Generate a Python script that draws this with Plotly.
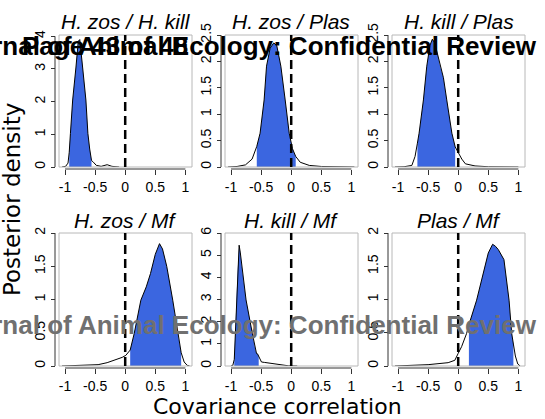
import plotly.graph_objects as go

W, H = 545, 419

# ---------------- data ----------------
titles = ["H. zos / H. kill", "H. zos / Plas", "H. kill / Plas",
          "H. zos / Mf", "H. kill / Mf", "Plas / Mf"]

x_ticks = [-1, -0.5, 0, 0.5, 1]
x_tick_labels = ["-1", "-0.5", "0", "0.5", "1"]

y_ticks = [
    [0, 1, 2, 3, 4],
    [0, 0.5, 1, 1.5, 2, 2.5],
    [0, 0.5, 1, 1.5, 2, 2.5],
    [0, 0.5, 1, 1.5, 2],
    [0, 1, 2, 3, 4, 5, 6],
    [0, 0.5, 1, 1.5, 2],
]
y_tick_labels = [[("%g" % v) for v in t] for t in y_ticks]
y_max = [4.04, 2.5, 2.5, 2.0, 6.0, 2.0]

# posterior density curves (x, density)
dens_x_1 = [-1.05, -0.99, -0.95, -0.93, -0.91, -0.873, -0.818, -0.78, -0.755, -0.73,
            -0.708, -0.653, -0.62, -0.59, -0.56, -0.53, -0.48, -0.4, -0.3, -0.22, -0.1]
dens_y_1 = [0, 0.02, 0.12, 0.45, 1.03, 2.05, 3.06, 3.85, 3.9, 3.5,
            3.06, 2.05, 1.03, 0.55, 0.2, 0.15, 0.05, 0.02, 0.07, 0.02, 0.0]
hpd_1 = [-0.93, -0.56]

dens_x_2 = [-1.05, -0.9, -0.76, -0.65, -0.572, -0.517, -0.45, -0.41, -0.35, -0.29,
            -0.24, -0.172, -0.1, -0.033, 0.02, 0.075, 0.15, 0.3, 0.5, 0.8, 1.05]
dens_y_2 = [0, 0.01, 0.04, 0.15, 0.39, 0.64, 1.27, 1.91, 2.25, 2.35,
            2.3, 1.91, 1.27, 0.64, 0.35, 0.2, 0.09, 0.03, 0.01, 0.005, 0]
hpd_2 = [-0.572, 0.075]

dens_x_3 = [-1.05, -0.9, -0.77, -0.717, -0.678, -0.65, -0.578, -0.522, -0.47, -0.43,
            -0.39, -0.355, -0.30, -0.245, -0.19, -0.105, -0.05, 0.005, 0.06, 0.12,
            0.28, 0.5, 1.0]
dens_y_3 = [0, 0.005, 0.03, 0.2, 0.45, 0.64, 1.27, 1.91, 2.3, 2.42,
            2.35, 2.2, 1.91, 1.69, 1.27, 0.64, 0.38, 0.27, 0.15, 0.06,
            0.02, 0.005, 0]
hpd_3 = [-0.678, -0.05]

dens_x_4 = [-1.05, -0.8, -0.6, -0.45, -0.3, -0.18, -0.05, 0.01, 0.083, 0.15,
            0.26, 0.35, 0.42, 0.5, 0.57, 0.62, 0.69, 0.79, 0.873, 0.93,
            0.98, 1.03, 1.07]
dens_y_4 = [0, 0.005, 0.01, 0.02, 0.05, 0.086, 0.13, 0.16, 0.24, 0.49,
            0.99, 1.19, 1.39, 1.68, 1.84, 1.76, 1.5, 0.99, 0.49, 0.2,
            0.06, 0.01, 0]
hpd_4 = [0.083, 0.93]

dens_x_5 = [-1.0, -0.97, -0.946, -0.925, -0.91, -0.89, -0.865, -0.845, -0.82, -0.75,
            -0.646, -0.6, -0.576, -0.56, -0.54, -0.494, -0.44, -0.386, -0.28, -0.17,
            -0.05, 0.1]
dens_y_5 = [0, 0.03, 0.3, 1.8, 2.98, 4.3, 5.45, 5.1, 4.49, 2.98,
            1.47, 0.8, 0.56, 0.55, 0.45, 0.18, 0.16, 0.14, 0.08, 0.03,
            0.01, 0]
hpd_5 = [-0.946, -0.54]

dens_x_6 = [-1.05, -0.8, -0.5, -0.167, -0.056, 0.0, 0.056, 0.14, 0.178, 0.306,
            0.444, 0.5, 0.572, 0.62, 0.667, 0.722, 0.76, 0.845, 0.889, 0.917,
            0.95, 0.99, 1.03]
dens_y_6 = [0, 0.005, 0.02, 0.05, 0.086, 0.19, 0.29, 0.49, 0.62, 0.99,
            1.5, 1.7, 1.83, 1.8, 1.75, 1.66, 1.6, 0.99, 0.49, 0.33,
            0.15, 0.03, 0]
hpd_6 = [0.178, 0.917]

dens_x = [dens_x_1, dens_x_2, dens_x_3, dens_x_4, dens_x_5, dens_x_6]
dens_y = [dens_y_1, dens_y_2, dens_y_3, dens_y_4, dens_y_5, dens_y_6]
hpds = [hpd_1, hpd_2, hpd_3, hpd_4, hpd_5, hpd_6]

# ---------------- layout geometry (pixels) ----------------
cols_px = [(59, 192), (225, 358), (392, 525)]
rows_px = [(35, 167), (233, 366)]
X_RANGE = [-1.1, 1.11]

FILL = "#3b66e0"
BOX = "#b8b8b8"
AX = "#333333"
TICK_FONT = dict(family="Liberation Sans, Arial, sans-serif", size=14, color="black")


def fx(px):
    return px / W


def fy(py):
    return 1 - py / H


fig = go.Figure()
shapes = []
annotations = []
layout_axes = {}

for i in range(6):
    r, c = divmod(i, 3)
    n = i + 1
    xname = "x" if n == 1 else "x%d" % n
    yname = "y" if n == 1 else "y%d" % n
    xl, xr = cols_px[c]
    yt, yb = rows_px[r]

    xs, ys = dens_x[i], dens_y[i]
    lo, hi = hpds[i]
    fx_pts = [x for x in xs if lo <= x <= hi]
    fy_pts = [y for x, y in zip(xs, ys) if lo <= x <= hi]

    fig.add_trace(go.Scatter(
        x=[lo] + fx_pts + [hi], y=[0] + fy_pts + [0],
        fill="toself", fillcolor=FILL, mode="none",
        xaxis=xname, yaxis=yname, hoverinfo="skip", showlegend=False))
    fig.add_trace(go.Scatter(
        x=xs, y=ys, mode="lines", line=dict(color="black", width=1),
        xaxis=xname, yaxis=yname, hoverinfo="skip", showlegend=False))

    x_pos = fy(yb + 2)
    y_pos = fx(xl - 4)
    layout_axes["xaxis" if n == 1 else "xaxis%d" % n] = dict(
        domain=[fx(xl), fx(xr)], range=X_RANGE, anchor="free", position=x_pos,
        tickvals=x_ticks, ticktext=x_tick_labels, ticks="outside", ticklen=5,
        tickwidth=1, tickcolor=AX, showgrid=False, zeroline=False, showline=False,
        tickfont=TICK_FONT, fixedrange=True, automargin=False)
    layout_axes["yaxis" if n == 1 else "yaxis%d" % n] = dict(
        domain=[fy(yb), fy(yt)], range=[0, y_max[i]], anchor="free", position=y_pos,
        tickvals=y_ticks[i], ticktext=y_tick_labels[i], ticks="outside", ticklen=4,
        tickwidth=1, tickcolor=AX, tickangle=-90, showgrid=False, zeroline=False,
        showline=False, tickfont=TICK_FONT, fixedrange=True, automargin=False)

    # plot frame
    shapes.append(dict(type="rect", xref=xname + " domain", yref=yname + " domain",
                       x0=0, x1=1, y0=0, y1=1, line=dict(color=BOX, width=1),
                       layer="above"))
    # axis lines (first to last tick)
    shapes.append(dict(type="line", xref=xname, yref="paper",
                       x0=min(x_ticks), x1=max(x_ticks), y0=x_pos, y1=x_pos,
                       line=dict(color=AX, width=1)))
    shapes.append(dict(type="line", xref="paper", yref=yname,
                       x0=y_pos, x1=y_pos, y0=min(y_ticks[i]), y1=max(y_ticks[i]),
                       line=dict(color=AX, width=1)))
    # dashed zero line
    shapes.append(dict(type="line", xref=xname, yref=yname + " domain",
                       x0=0, x1=0, y0=0, y1=1,
                       line=dict(color="black", width=2.5, dash="9px,5px"),
                       layer="above"))
    # panel title
    annotations.append(dict(
        text="<i>%s</i>" % titles[i], xref="paper", yref="paper",
        x=fx((xl + xr) / 2), y=fy(yt - 13), xanchor="center", yanchor="middle",
        showarrow=False,
        font=dict(family="Liberation Sans, Arial, sans-serif", size=21, color="black")))

# axis titles
annotations.append(dict(
    text="Covariance correlation", xref="paper", yref="paper",
    x=fx(277), y=fy(406), xanchor="center", yanchor="middle", showarrow=False,
    borderpad=0, font=dict(family="DejaVu Sans", size=22, color="black")))
annotations.append(dict(
    text="Posterior density", xref="paper", yref="paper",
    x=fx(12), y=fy(200), xanchor="center", yanchor="middle", showarrow=False,
    textangle=-90, font=dict(family="DejaVu Sans", size=23, color="black")))

# watermarks
WM_FONT = "Liberation Sans, Arial, sans-serif"
annotations.append(dict(
    text="<b>Journal of Animal Ecology: Confidential Review</b>", xref="paper",
    yref="paper", x=fx(539), y=fy(325), xanchor="right", yanchor="middle",
    showarrow=False, font=dict(family=WM_FONT, size=26, color="#707070")))
annotations.append(dict(
    text="<b>Journal of Animal Ecology: Confidential Review</b>", xref="paper",
    yref="paper", x=fx(539), y=fy(46), xanchor="right", yanchor="middle",
    showarrow=False, font=dict(family=WM_FONT, size=26, color="black")))
annotations.append(dict(
    text="<b>Page 43 of 48</b>", xref="paper", yref="paper",
    x=fx(20), y=fy(46), xanchor="left", yanchor="middle",
    showarrow=False, font=dict(family=WM_FONT, size=26, color="black")))

fig.update_layout(
    width=W, height=H, margin=dict(l=0, r=0, t=0, b=0, pad=0, autoexpand=False),
    paper_bgcolor="white", plot_bgcolor="white", showlegend=False,
    shapes=shapes, annotations=annotations, **layout_axes)

fig.write_html("out.html", config={"displayModeBar": False},
               post_script="document.body.style.margin='0';document.body.style.overflow='hidden';")
